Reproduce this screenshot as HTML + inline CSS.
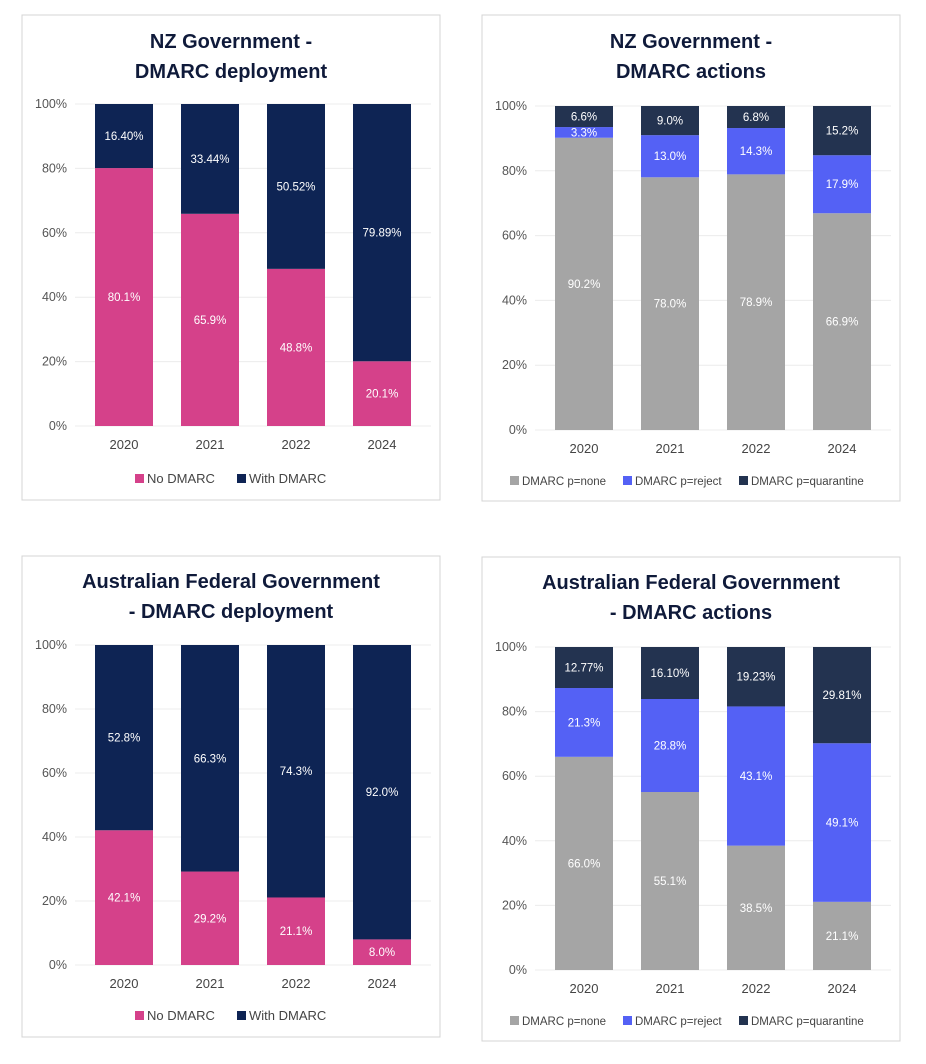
<!DOCTYPE html>
<html><head><meta charset="utf-8"><style>
html,body{margin:0;padding:0;background:#fff;width:926px;height:1064px;overflow:hidden}
svg{display:block;font-family:"Liberation Sans",sans-serif}
</style></head><body>
<svg id="root" width="926" height="1064" viewBox="0 0 926 1064" xmlns="http://www.w3.org/2000/svg"></svg>
<script>
// ---- data ----
const years = ["2020","2021","2022","2024"];
const nzNoDmarc = [80.1, 65.9, 48.8, 20.1];
const nzWithDmarc = [16.40, 33.44, 50.52, 79.89];
const nzWithLabels = ["16.40%","33.44%","50.52%","79.89%"];
const nzNone = [90.2, 78.0, 78.9, 66.9];
const nzReject = [3.3, 13.0, 14.3, 17.9];
const nzQuarantine = [6.6, 9.0, 6.8, 15.2];
const auNoDmarc = [42.1, 29.2, 21.1, 8.0];
const auWithDmarc = [52.8, 66.3, 74.3, 92.0];
const auWithLabels = ["52.8%","66.3%","74.3%","92.0%"];
const auNone = [66.0, 55.1, 38.5, 21.1];
const auReject = [21.3, 28.8, 43.1, 49.1];
const auQuarantine = [12.77, 16.10, 19.23, 29.81];
const auQuarantineLabels = ["12.77%","16.10%","19.23%","29.81%"];
const yTicks = [0, 20, 40, 60, 80, 100];

const NS = "http://www.w3.org/2000/svg";
const root = document.getElementById('root');
function mk(tag, attrs, parent, text){
  const e = document.createElementNS(NS, tag);
  for (const k in attrs) e.setAttribute(k, attrs[k]);
  if (text !== undefined) e.textContent = text;
  (parent||root).appendChild(e);
  return e;
}
const C = {pink:"#d5418a", navy:"#0e2454", grey:"#a5a5a5", blue:"#5461f5", quar:"#233350"};

function panel(p){
  const g = mk('g', {});
  
  
  const bg = mk('rect', {x:p.x, y:p.y, width:418, height:p.h, fill:"#fff", stroke:"#d4d4d4", "stroke-width":1}, g);
  
  
  p.title.forEach((t,i)=>{
    const tt = mk('text', {x:p.x+209, y:p.ty+i*30, "text-anchor":"middle", "font-size":20, "font-weight":"bold", fill:"#0f1a3a"}, g, t);
    
    
  });
  const yS = v => p.y0 - (v/100)*(p.y0-p.y100);
  yTicks.forEach(v=>{
    const ln = mk('line', {x1:p.bx[0]-20, x2:p.bx[3]+78, y1:yS(v), y2:yS(v), stroke:"#ececec", "stroke-width":1}, g);
    
    
    const tl = mk('text', {x:p.bx[0]-28, y:yS(v)+4, "text-anchor":"end", "font-size":12.5, fill:"#555"}, g, v+"%");
    
    
  });
  years.forEach((yr,i)=>{
    const xl = mk('text', {x:p.bx[i]+29, y:p.y0+23, "text-anchor":"middle", "font-size":13, fill:"#444"}, g, yr);
    
    
    let base = 0;
    p.series.forEach((s,si)=>{
      let v = s.fill ? (100-base) : s.vals[i];
      let top = Math.min(100, base+v);
      const r = mk('rect', {x:p.bx[i], y:yS(top), width:58, height:yS(base)-yS(top), fill:s.color}, g);
      
      
      const mid = (yS(base)+yS(top))/2;
      const lbl = s.labels ? s.labels[i] : s.vals[i].toFixed(1)+"%";
      const t = mk('text', {x:p.bx[i]+29, y:mid+4, "text-anchor":"middle", "font-size":11.5, fill:"#fff"}, g, lbl);
      
      
      base = top;
    });
  });
  p.legend.forEach(l=>{
    const sq = mk('rect', {x:l.x, y:p.ly-9, width:9, height:9, fill:l.color}, g);
    
    
    const lt = mk('text', {x:l.x+12, y:p.ly, "font-size":l.fs, fill:"#444"}, g, l.text);
    
    
  });
}
const bxL = [95,181,267,353], bxR = [555,641,727,813];
panel({name:"nz-deployment-chart", x:22, y:15, h:485, ty:48, title:["NZ Government -","DMARC deployment"], y100:104, y0:426, bx:bxL,
  series:[{key:"no-dmarc", vals:nzNoDmarc, color:C.pink},{key:"with-dmarc", vals:nzWithDmarc, labels:nzWithLabels, color:C.navy, fill:true}],
  ly:483, legend:[{x:135,color:C.pink,text:"No DMARC",fs:13},{x:237,color:C.navy,text:"With DMARC",fs:13}]});
panel({name:"nz-actions-chart", x:482, y:15, h:486, ty:48, title:["NZ Government -","DMARC actions"], y100:106, y0:430, bx:bxR,
  series:[{key:"none", vals:nzNone, color:C.grey},{key:"reject", vals:nzReject, color:C.blue},{key:"quarantine", vals:nzQuarantine, color:C.quar}],
  ly:485, legend:[{x:510,color:C.grey,text:"DMARC p=none",fs:11.5},{x:623,color:C.blue,text:"DMARC p=reject",fs:11.5},{x:739,color:C.quar,text:"DMARC p=quarantine",fs:11.5}]});
panel({name:"au-deployment-chart", x:22, y:556, h:481, ty:588, title:["Australian Federal Government","- DMARC deployment"], y100:645, y0:965, bx:bxL,
  series:[{key:"no-dmarc", vals:auNoDmarc, color:C.pink},{key:"with-dmarc", vals:auWithDmarc, labels:auWithLabels, color:C.navy, fill:true}],
  ly:1020, legend:[{x:135,color:C.pink,text:"No DMARC",fs:13},{x:237,color:C.navy,text:"With DMARC",fs:13}]});
panel({name:"au-actions-chart", x:482, y:557, h:484, ty:589, title:["Australian Federal Government","- DMARC actions"], y100:647, y0:970, bx:bxR,
  series:[{key:"none", vals:auNone, color:C.grey},{key:"reject", vals:auReject, color:C.blue},{key:"quarantine", vals:auQuarantine, labels:auQuarantineLabels, color:C.quar, fill:true}],
  ly:1025, legend:[{x:510,color:C.grey,text:"DMARC p=none",fs:11.5},{x:623,color:C.blue,text:"DMARC p=reject",fs:11.5},{x:739,color:C.quar,text:"DMARC p=quarantine",fs:11.5}]});
</script>
</body></html>
